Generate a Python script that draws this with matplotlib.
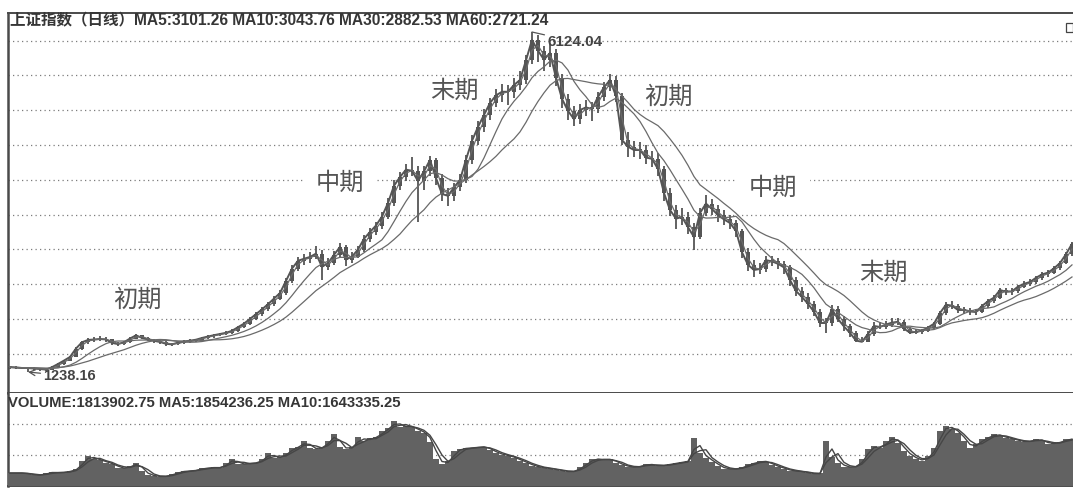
import matplotlib
matplotlib.use('Agg')
import matplotlib.pyplot as plt
from matplotlib.patches import Rectangle
import numpy as np
import pandas as pd

plt.rcParams['font.family'] = ['Liberation Sans', 'Noto Sans CJK SC', 'DejaVu Sans']

# one bar for every ~4-5 trading days
close = [1307, 1300, 1295, 1295, 1287, 1281, 1272, 1307, 1353, 1402,
         1454, 1575, 1665, 1698, 1705, 1712, 1706, 1656, 1639, 1665,
         1719, 1764, 1729, 1704, 1686, 1669, 1643, 1635, 1660, 1676,
         1688, 1702, 1727, 1748, 1767, 1784, 1801, 1830, 1882, 1933,
         2000, 2069, 2138, 2212, 2293, 2373, 2546, 2724, 2836, 2865,
         2891, 2939, 2750, 2801, 2922, 3034, 2854, 2897, 2997, 3152,
         3250, 3343, 3472, 3666, 3914, 4040, 4146, 4129, 3983, 4121,
         4284, 4026, 3796, 3770, 3891, 3997, 4290, 4560, 4759, 4931,
         5104, 5213, 5265, 5265, 5362, 5434, 5716, 6009, 5855, 5727,
         5822, 5469, 5164, 4991, 4871, 5003, 5040, 5017, 5190, 5328,
         5434, 5204, 4572, 4476, 4428, 4428, 4319, 4302, 4155, 3810,
         3566, 3442, 3465, 3319, 3178, 3523, 3658, 3580, 3494, 3431,
         3379, 3264, 2959, 2778, 2704, 2718, 2845, 2827, 2793, 2741,
         2560, 2402, 2316, 2217, 2104, 1942, 1942, 2138, 2000, 1892,
         1800, 1689, 1672, 1784, 1899, 1885, 1919, 1948, 1959, 1860,
         1804, 1816, 1833, 1876, 1932, 2086, 2205, 2191, 2129, 2129,
         2107, 2100, 2186, 2255, 2307, 2416, 2390, 2396, 2465, 2505,
         2531, 2592, 2640, 2666, 2727, 2804, 2930, 3080]

high = [1320, 1318, 1312, 1310, 1305, 1300, 1290, 1318, 1365, 1415,
        1470, 1598, 1690, 1725, 1740, 1757, 1735, 1718, 1672, 1690,
        1738, 1785, 1770, 1745, 1718, 1702, 1680, 1660, 1675, 1692,
        1705, 1718, 1745, 1765, 1785, 1802, 1822, 1852, 1905, 1960,
        2030, 2100, 2170, 2245, 2330, 2420, 2590, 2770, 2890, 2930,
        2960, 3050, 2990, 2880, 2980, 3090, 3060, 2960, 3050, 3200,
        3310, 3400, 3540, 3740, 3990, 4110, 4230, 4330, 4200, 4200,
        4340, 4320, 4080, 3880, 3960, 4080, 4350, 4640, 4840, 5020,
        5180, 5300, 5380, 5360, 5460, 5560, 5800, 6124, 6080, 5920,
        5950, 5880, 5520, 5240, 5060, 5090, 5140, 5120, 5260, 5400,
        5522, 5490, 5250, 4680, 4560, 4540, 4500, 4420, 4380, 4200,
        3880, 3640, 3600, 3540, 3380, 3590, 3786, 3720, 3640, 3560,
        3500, 3420, 3300, 3020, 2850, 2800, 2900, 2910, 2880, 2830,
        2780, 2600, 2460, 2370, 2260, 2140, 2010, 2200, 2180, 2040,
        1930, 1830, 1740, 1820, 1950, 1960, 1970, 2010, 2020, 1980,
        1880, 1850, 1860, 1900, 1960, 2110, 2240, 2260, 2220, 2170,
        2160, 2150, 2210, 2290, 2340, 2440, 2450, 2440, 2490, 2540,
        2570, 2620, 2670, 2710, 2760, 2830, 2960, 3110]

low = [1288, 1285, 1280, 1238, 1262, 1255, 1250, 1262, 1298, 1340,
       1392, 1448, 1560, 1640, 1670, 1682, 1668, 1630, 1610, 1622,
       1650, 1705, 1705, 1680, 1660, 1645, 1615, 1610, 1620, 1645,
       1660, 1675, 1690, 1712, 1730, 1750, 1765, 1785, 1815, 1865,
       1915, 1980, 2045, 2115, 2190, 2270, 2350, 2520, 2690, 2780,
       2810, 2860, 2560, 2700, 2770, 2890, 2760, 2810, 2870, 2960,
       3110, 3200, 3300, 3430, 3620, 3860, 3980, 4050, 3400, 3850,
       4060, 3920, 3700, 3620, 3700, 3840, 3960, 4230, 4500, 4690,
       4860, 5040, 5120, 5080, 5180, 5290, 5380, 5660, 5700, 5560,
       5620, 5350, 5030, 4860, 4780, 4800, 4920, 4850, 4960, 5130,
       5280, 5120, 4500, 4330, 4330, 4300, 4220, 4180, 4060, 3700,
       3480, 3300, 3350, 3220, 2990, 3150, 3480, 3500, 3400, 3350,
       3300, 3180, 2880, 2690, 2600, 2640, 2680, 2760, 2720, 2650,
       2480, 2330, 2250, 2150, 2040, 1880, 1800, 1900, 1950, 1830,
       1740, 1664, 1664, 1668, 1760, 1850, 1860, 1890, 1920, 1830,
       1780, 1780, 1790, 1815, 1860, 1910, 2060, 2150, 2080, 2070,
       2050, 2060, 2080, 2160, 2230, 2290, 2350, 2350, 2370, 2440,
       2480, 2500, 2560, 2610, 2640, 2700, 2790, 2910]

# volume in 10k lots
volume = [50, 50, 50, 46, 42, 42, 50, 54, 50, 54,
          58, 66, 97, 116, 104, 100, 89, 85, 69, 69,
          77, 89, 58, 42, 39, 35, 39, 46, 54, 58,
          58, 62, 69, 69, 73, 69, 89, 104, 85, 85,
          89, 89, 104, 127, 108, 112, 127, 147, 151, 174,
          147, 143, 151, 174, 201, 151, 143, 151, 189, 174,
          185, 189, 212, 224, 251, 228, 232, 228, 212, 205,
          170, 104, 85, 97, 135, 143, 147, 147, 151, 151,
          139, 127, 120, 116, 108, 97, 89, 77, 73, 69,
          66, 62, 58, 54, 58, 73, 89, 104, 104, 100,
          104, 89, 81, 73, 73, 77, 85, 81, 77, 81,
          85, 89, 93, 97, 185, 127, 108, 93, 77, 66,
          66, 66, 73, 85, 89, 97, 93, 81, 73, 66,
          58, 58, 54, 50, 46, 50, 174, 112, 89, 73,
          73, 77, 104, 143, 154, 147, 174, 189, 166, 135,
          116, 104, 97, 116, 147, 212, 232, 220, 205, 174,
          147, 162, 181, 189, 201, 193, 185, 181, 174, 170,
          174, 181, 174, 162, 166, 170, 181, 181]

title_main = '上证指数（日线）MA5:3101.26 MA10:3043.76 MA30:2882.53 MA60:2721.24'
title_vol = 'VOLUME:1813902.75 MA5:1854236.25 MA10:1643335.25'
phase_text = ['初期', '中期', '末期', '初期', '中期', '末期']
phase_at = [(21.2, 2273), (55.0, 3954), (74.0, 5276), (109.8, 5190), (127.2, 3882), (145.5, 2661)]
phase_boxed = [False, True, False, False, True, False]

ink = '#555555'
line_c = '#6a6a6a'
grid_c = '#7c7c7c'
dots = (0, (1, 2.6))

x = np.arange(len(close))
c = np.array(close, dtype=float)
o = np.r_[c[0], c[:-1]]

fig = plt.figure(figsize=(10.73, 4.90), dpi=100)
ax = fig.add_axes([8 / 1073, 1 - 393 / 490, 1 - 8 / 1073, 380 / 490])
axv = fig.add_axes([8 / 1073, 1 - 486 / 490, 1 - 8 / 1073, 93 / 490])

# price panel: dense candles drawn as wicks + bodies + close path
ax.vlines(x, low, high, color=ink, lw=1.3, zorder=3)
ax.bar(x, np.maximum(np.abs(c - o), 12), bottom=np.minimum(o, c), width=0.8,
       color=ink, lw=0, zorder=3)
ax.plot(x, c, color=ink, lw=1.4, zorder=3)
s = pd.Series(c)
for w in (2, 7, 14):
    ax.plot(x, s.rolling(w, min_periods=1).mean(), color=line_c, lw=0.9, zorder=4)

ax.set_xlim(-0.33, 177.17)
ax.set_ylim(936, 6397)
ax.set_yticks(range(1500, 6001, 500))
ax.set_axisbelow(True)
ax.grid(axis='y', ls=dots, color=grid_c, lw=0.9)
ax.tick_params(left=False, bottom=False, labelleft=False, labelbottom=False)
ax.set_xticks([])

for txt, (px, py), boxed in zip(phase_text, phase_at, phase_boxed):
    kw = {}
    if boxed:
        kw['bbox'] = dict(facecolor='white', edgecolor='none', pad=9)
    ax.text(px, py, txt, fontsize=17.5, color='#555555', ha='center', va='center',
            family=['Noto Sans CJK SC'], zorder=2, **kw)

ipk = int(np.argmax(high))
ax.annotate('6124.04', xy=(ipk, high[ipk]), xytext=(11, -7), textcoords='offset points',
            fontsize=11, fontweight='bold', color='#444444', ha='left', va='center',
            arrowprops=dict(arrowstyle='-', color='#555555', lw=0.9, shrinkA=0, shrinkB=0))
ilo = int(np.argmin(low))
ax.annotate('1238.16', xy=(ilo, low[ilo]), xytext=(11, -3), textcoords='offset points',
            fontsize=10.5, fontweight='bold', color='#444444', ha='left', va='center',
            arrowprops=dict(arrowstyle='->', color='#555555', lw=0.9, shrinkA=0, shrinkB=0))

ax.text(0.002, 1 - 8 / 380, title_main, transform=ax.transAxes, ha='left', va='center',
        fontsize=11.2, fontweight='bold', color='#363636')
ax.add_patch(Rectangle((0.9935, 1 - 19 / 380), 0.0065, 9 / 380, transform=ax.transAxes,
                       facecolor='white', edgecolor='#444444', lw=0.9, clip_on=False))

ax.spines['right'].set_visible(False)
ax.spines['left'].set_linewidth(1.8)
ax.spines['top'].set_linewidth(1.4)
ax.spines['bottom'].set_linewidth(1.4)
for sp in ax.spines.values():
    sp.set_color('#4a4a4a')

# volume panel
v = pd.Series(volume, dtype=float)
axv.bar(x, volume, width=0.85, color='#626262', lw=0, zorder=3)
for w in (2, 3):
    axv.plot(x, v.rolling(w, min_periods=1).mean(), color='#464646', lw=1.0, zorder=4)
axv.set_xlim(-0.33, 177.17)
axv.set_ylim(0, 359)
axv.set_yticks([120, 240])
axv.set_axisbelow(True)
axv.grid(axis='y', ls=dots, color=grid_c, lw=0.9)
axv.tick_params(left=False, bottom=False, labelleft=False, labelbottom=False)
axv.set_xticks([])
axv.text(0.0, 1 - 10 / 93, title_vol, transform=axv.transAxes, ha='left', va='center',
         fontsize=10.7, fontweight='bold', color='#363636')
axv.spines['right'].set_visible(False)
axv.spines['top'].set_visible(False)
axv.spines['left'].set_linewidth(1.8)
axv.spines['bottom'].set_linewidth(1.4)
for sp in axv.spines.values():
    sp.set_color('#4a4a4a')

fig.savefig('out.png', dpi=100, facecolor='white')
